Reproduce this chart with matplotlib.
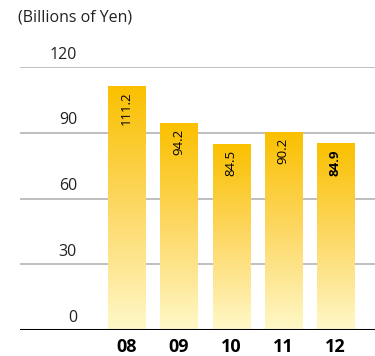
import numpy as np
import matplotlib
matplotlib.use('Agg')
import matplotlib.pyplot as plt
from matplotlib.colors import LinearSegmentedColormap
from matplotlib.transforms import blended_transform_factory

plt.rcParams['font.family'] = ['Open Sans', 'DejaVu Sans']

# Datos
years = ['08', '09', '10', '11', '12']
values = [111.2, 94.2, 84.5, 90.2, 84.9]
yticks = [0, 30, 60, 90, 120]

fig = plt.figure(figsize=(3.75, 3.56), dpi=100)
ax = fig.add_axes([20 / 375, 26 / 356, 355 / 375, 263 / 356])

# Degradado amarillo de cada barra
cmap = LinearSegmentedColormap.from_list('oro', ['#fff8c8', '#fdd865', '#fac000'])
grad = np.linspace(0, 1, 256).reshape(-1, 1)
width = 0.71
x = np.arange(len(years))
for xi, v in zip(x, values):
    ax.imshow(grad, extent=[xi - width / 2, xi + width / 2, 0, v], origin='lower',
              aspect='auto', cmap=cmap, zorder=2)

# Lineas de la grilla y linea base
for t in yticks[1:]:
    ax.axhline(t, color='#b4b4b4', lw=1.2, zorder=1)
ax.axhline(0, color='black', lw=2.2, zorder=3)

trans = blended_transform_factory(fig.transFigure, ax.transData)
for t in yticks:
    ax.text(77 / 375, t + 2.0, str(t), transform=trans, ha='right', va='bottom',
            fontsize=11.5, color='#222222')

# Etiquetas de valor dentro de las barras
for i, (xi, v) in enumerate(zip(x, values)):
    ax.text(xi, v - 2.5, f'{v:.1f}', rotation=90, ha='center', va='top',
            fontsize=9.5, color='black', fontweight='bold' if i == len(values) - 1 else 'normal',
            zorder=4)

for xi, y in zip(x, years):
    ax.text(xi, -3.5, y, ha='center', va='top', fontsize=13, fontweight='bold',
            color='black')

ax.set_xlim(-2.048, 4.76)
ax.set_ylim(0, 120)
ax.axis('off')

fig.text(18 / 375, 1 - 18 / 356, '(Billions of Yen)', ha='left', va='center',
         fontsize=11.5, color='#222222')

fig.savefig('out.png', dpi=100)
plt.close()
